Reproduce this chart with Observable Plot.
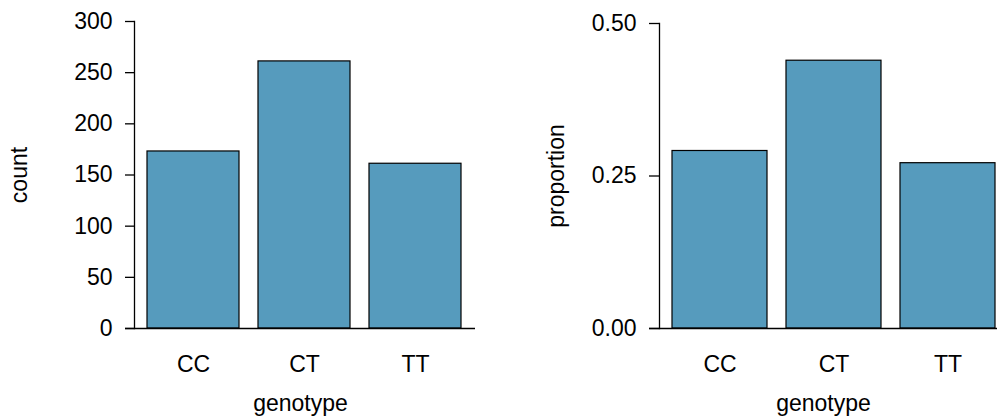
<!DOCTYPE html>
<html><head><meta charset="utf-8">
<script src="https://cdn.jsdelivr.net/npm/d3@7"></script>
<script src="https://cdn.jsdelivr.net/npm/@observablehq/plot@0.6"></script>
<style>
body{margin:0;background:#fff;}
#wrap{position:relative;width:997px;height:417px;overflow:hidden;}
#left,#right{position:absolute;top:0;}
#left{left:0}
#right{left:499px}
</style></head><body><div id="wrap"><div id="left"></div><div id="right"></div></div>
<script>
const genotypes = ["CC", "CT", "TT"];
const counts = [173, 261, 161];
const proportions = [0.291, 0.439, 0.271];
const countTicks = [0, 50, 100, 150, 200, 250, 300];
const propTicks = [0, 0.25, 0.5];

const font = "'Liberation Sans', Arial, Helvetica, sans-serif";

function panel(o) {
  const data = genotypes.map((g, i) => ({g, v: o.values[i]}));
  return Plot.plot({
    width: o.width, height: 417,
    marginTop: o.marginTop, marginBottom: 89, marginLeft: o.marginLeft, marginRight: o.marginRight,
    style: {fontFamily: font, fontSize: "23px", color: "#000", background: "#fff", overflow: "visible"},
    x: {domain: genotypes, range: o.xRange, paddingInner: 0.1667, paddingOuter: 0, label: null},
    y: {domain: [0, o.ymax], label: null},
    marks: [
      Plot.barY(data, {x: "g", y: "v", fill: "#569bbd", stroke: "#000", strokeWidth: 1.2}),
      Plot.ruleY([0], {stroke: "#000", strokeWidth: 1.3}),
      Plot.frame({anchor: "left", dx: o.yDx, stroke: "#000", strokeWidth: 1.3}),
      Plot.axisY({ticks: o.ticks, tickFormat: o.tickFormat, tickSize: o.tickSize, dx: o.yDx, tickPadding: 13,
        label: o.label, labelArrow: "none", labelAnchor: "center", labelOffset: o.labelOffset, fontSize: 23, strokeWidth: 1.3}),
      Plot.axisX({tickSize: 0, tickPadding: 27, label: "genotype", labelArrow: "none", labelAnchor: "center", labelOffset: 82, fontSize: 23})
    ]
  });
}

document.getElementById("left").append(panel({
  values: counts, ticks: countTicks, tickFormat: d => String(d), label: "count", ymax: 300,
  width: 498, marginTop: 21, marginLeft: 125, marginRight: 23, xRange: [146.7, 462.3],
  yDx: 9, tickSize: 9, labelOffset: 115
}));
document.getElementById("right").append(panel({
  values: proportions, ticks: propTicks, tickFormat: d3.format(".2f"), label: "proportion", ymax: 0.5,
  width: 498, marginTop: 23, marginLeft: 150, marginRight: 0, xRange: [172.7, 496.3],
  yDx: 10, tickSize: 10, labelOffset: 102
}));
</script></body></html>
